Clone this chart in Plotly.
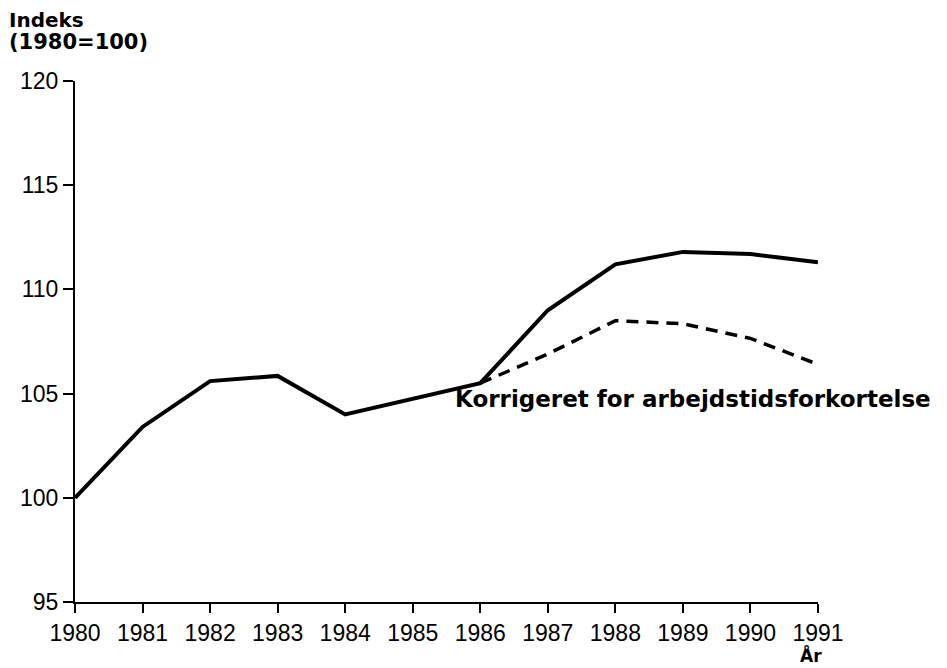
import plotly.graph_objects as go

years = list(range(1980, 1992))
index_values = [100.0, 103.4, 105.6, 105.85, 104.0, 104.75, 105.5, 109.0, 111.2, 111.8, 111.7, 111.3]
corr_years = [1986, 1987, 1988, 1989, 1990, 1991]
corr_values = [105.5, 106.9, 108.5, 108.35, 107.65, 106.4]
y_ticks = [95, 100, 105, 110, 115, 120]

tick_font = "Liberation Sans, Arial, sans-serif"
bold_font = "DejaVu Sans, Verdana, sans-serif"

# plot area: 746 x 521 px
PW, PH, TOP = 746, 521, 73

fig = go.Figure()
fig.add_trace(go.Scatter(x=years, y=index_values, mode="lines",
                         line=dict(color="black", width=4), showlegend=False))
fig.add_trace(go.Scatter(x=corr_years, y=corr_values, mode="lines",
                         line=dict(color="black", width=3.5, dash="12px,8px"), showlegend=False))

fig.update_layout(
    width=939, height=660,
    margin=dict(l=64, r=129, t=TOP, b=66),
    paper_bgcolor="white", plot_bgcolor="white",
    font=dict(family=tick_font, size=23, color="black"),
    xaxis=dict(range=[1980, 1991], tickmode="array", tickvals=years,
               ticktext=[str(y) for y in years],
               showgrid=False, zeroline=False, showline=True, linecolor="black", linewidth=2,
               ticks="outside", ticklen=9, tickwidth=2, tickcolor="black"),
    yaxis=dict(range=[95, 120], tickmode="array", tickvals=y_ticks,
               showgrid=False, zeroline=False, showline=True, linecolor="black", linewidth=2,
               ticks="outside", ticklen=10, tickwidth=2, tickcolor="black"),
    annotations=[
        dict(text="<b>Indeks</b>", xref="paper", yref="paper",
             x=-68 / PW, y=1 + (TOP - 12) / PH, xanchor="left", yanchor="middle",
             showarrow=False, font=dict(family=bold_font, size=20)),
        dict(text="<b>(1980=100)</b>", xref="paper", yref="paper",
             x=-68 / PW, y=1 + (TOP - 34) / PH, xanchor="left", yanchor="middle",
             showarrow=False, font=dict(family=bold_font, size=21)),
        dict(text="<b>Korrigeret for arbejdstidsforkortelse</b>", xref="x", yref="y",
             x=1985.6, y=104.75, xanchor="left", yanchor="middle", showarrow=False,
             font=dict(family=bold_font, size=23)),
        dict(text="<b>År</b>", xref="x", yref="paper", x=1990.9, y=1 + (TOP - 660) / PH,
             xanchor="center", yanchor="bottom", showarrow=False,
             font=dict(family=bold_font, size=17)),
    ],
)

fig.write_html("out.html")
